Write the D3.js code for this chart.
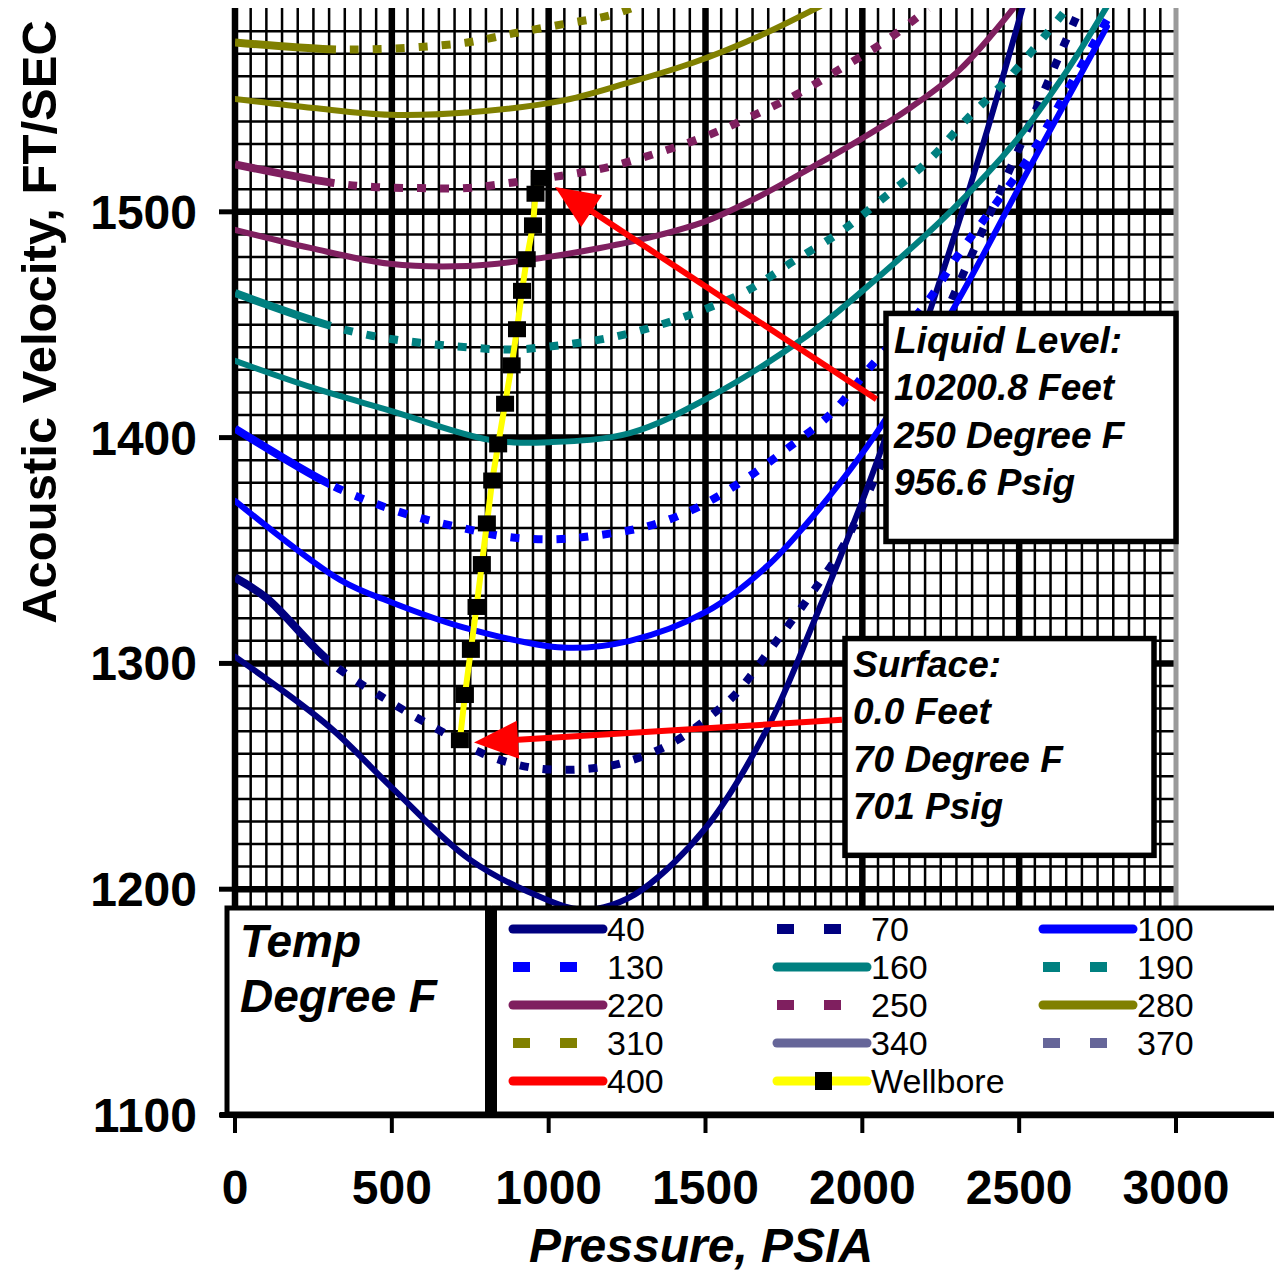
<!DOCTYPE html>
<html><head><meta charset="utf-8">
<script src="https://cdn.jsdelivr.net/npm/d3@7"></script>
<style>html,body{margin:0;padding:0;background:#fff;}svg{display:block;}</style>
</head><body>
<svg id="chart" width="1274" height="1274"></svg>
<script>
// ---------- DATA (pressure PSIA, acoustic velocity ft/sec) ----------
const s40  = [[0,1303],[300,1272],[500,1245],[750,1213],[1000,1195],[1100,1191],[1200,1193],[1300,1200],[1500,1227],[1700,1272],[1850,1320],[2000,1372],[2100,1410],[2220,1458],[2385,1530],[2520,1595]];
const s70  = [[0,1338],[100,1329],[300,1301],[494,1283],[644,1271],[791,1260],[940,1254],[1090,1253],[1237,1256],[1397,1265],[1536,1279],[1600,1287],[1716,1308],[1828,1329],[1935,1351],[2024,1377],[2250,1450],[2512,1532],[2640,1573],[2700,1592]];
const s100 = [[0,1372],[335,1337],[500,1327],[728,1316],[1046,1307],[1259,1310],[1504,1323],[1696,1343],[1823,1362],[1929,1380],[2035,1400],[2290,1457],[2535,1520],[2780,1582]];
const s130 = [[0,1404],[293,1380],[424,1372],[574,1365],[724,1360],[870,1356],[1026,1355],[1170,1357],[1323,1361],[1473,1369],[1620,1381],[1759,1395],[1903,1411],[2024,1431],[2206,1460],[2311,1482],[2417,1502],[2535,1525],[2650,1553],[2800,1590]];
const s160 = [[0,1434],[250,1422],[494,1412],[813,1399],[1004,1398],[1259,1402],[1514,1418],[1823,1445],[1992,1464],[2280,1500],[2493,1532],[2650,1562],[2780,1591]];
const s190 = [[0,1464],[293,1450],[440,1445],[590,1442],[740,1440],[887,1439],[1042,1441],[1186,1444],[1333,1449],[1482,1456],[1632,1465],[1779,1478],[1929,1491],[2066,1506],[2206,1522],[2333,1541],[2464,1559],[2588,1579],[2652,1590]];
const s220 = [[0,1492],[240,1484],[494,1477],[740,1476],[950,1479],[1164,1484],[1333,1489],[1504,1496],[1674,1507],[1843,1520],[1993,1532],[2152,1546],[2311,1563],[2481,1590]];
const s250 = [[0,1521],[303,1513],[440,1511],[590,1510.5],[740,1510.5],[887,1513],[1042,1516],[1196,1520],[1345,1526],[1492,1533],[1642,1542],[1791,1552],[1938,1564],[2078,1576],[2210,1590]];
const s280 = [[0,1550],[250,1546],[494,1543],[740,1544],[1036,1549],[1250,1557],[1460,1566],[1674,1578],[1865,1591]];
const s310 = [[0,1575],[303,1572],[440,1572],[590,1573],[740,1575],[887,1579],[1042,1583],[1196,1587],[1280,1591]];
const s340 = [];
const s370 = [];
const s400 = [];
const wellbore = [[717,1266],[733,1286],[752,1306],[770,1325],[787,1344],[803,1362],[820,1381],[839,1397],[861,1415],[882,1432],[899,1448],[915,1465],[930,1479],[950,1494],[958,1508],[971,1515]];

const seriesNames = ["40","70","100","130","160","190","220","250","280","310","340","370","400"];
const xTicks = [0,500,1000,1500,2000,2500,3000];
const yTicks = [1100,1200,1300,1400,1500];

const liquidText  = ["Liquid Level:","10200.8 Feet","250 Degree F","956.6 Psig"];
const surfaceText = ["Surface:","0.0 Feet","70 Degree F","701 Psig"];
const legendTitle = ["Temp","Degree F"];
const xTitle = "Pressure, PSIA";
const yTitle = "Acoustic Velocity, FT/SEC";

// ---------- STYLE ----------
const seriesDefs = [
  {d:s40,  c:"#000080", dot:false},
  {d:s70,  c:"#000080", dot:true},
  {d:s100, c:"#0000FF", dot:false},
  {d:s130, c:"#0000FF", dot:true},
  {d:s160, c:"#008080", dot:false},
  {d:s190, c:"#008080", dot:true},
  {d:s220, c:"#7F1F5F", dot:false},
  {d:s250, c:"#7F1F5F", dot:true},
  {d:s280, c:"#808000", dot:false},
  {d:s310, c:"#808000", dot:true},
  {d:s340, c:"#666699", dot:false},
  {d:s370, c:"#666699", dot:true},
  {d:s400, c:"#FF0000", dot:false}
].map((s,i)=>Object.assign(s,{name:seriesNames[i]}));

const FONT = "'Liberation Sans', Arial, Helvetica, sans-serif";
const svg = d3.select("#chart");
const x = d3.scaleLinear().domain([0,3000]).range([235,1176]);
const y = d3.scaleLinear().domain([1100,1590]).range([1115,8.6]);
const plotTop = 8, plotBottom = y(1100);

const defs = svg.append("defs");
defs.append("clipPath").attr("id","plotclip").append("rect")
  .attr("x",x(0)).attr("y",plotTop).attr("width",x(3000)-x(0)).attr("height",plotBottom-plotTop);
defs.append("clipPath").attr("id","denseclip").append("rect")
  .attr("x",x(0)).attr("y",plotTop).attr("width",x(300)-x(0)).attr("height",plotBottom-plotTop);
defs.append("clipPath").attr("id","sparseclip").append("rect")
  .attr("x",x(300)).attr("y",plotTop).attr("width",x(3000)-x(300)).attr("height",plotBottom-plotTop);

// ---------- GRID ----------
const grid = svg.append("g");
d3.range(1100,1590,10).forEach(v=>{
  grid.append("line").attr("x1",x(0)).attr("x2",x(3000)).attr("y1",y(v)).attr("y2",y(v))
    .attr("stroke","#000").attr("stroke-width", v%100===0?6.5:2.5);
});
d3.range(0,3001,50).forEach(p=>{
  grid.append("line").attr("x1",x(p)).attr("x2",x(p)).attr("y1",plotTop).attr("y2",plotBottom)
    .attr("stroke", p===3000?"#9a9a9a":"#000").attr("stroke-width", p%500===0?(p===3000?5:6.5):2.5);
});

// ---------- CURVES ----------
const line = d3.line().x(d=>x(d[0])).y(d=>y(d[1])).curve(d3.curveCatmullRom.alpha(0.5));
const curves = svg.append("g").attr("clip-path","url(#plotclip)");
seriesDefs.forEach(s=>{
  if(!s.d.length) return;
  if(!s.dot){
    curves.append("path").attr("d",line(s.d)).attr("fill","none").attr("stroke",s.c)
      .attr("stroke-width",6).attr("stroke-linecap","round");
  } else {
    curves.append("g").attr("clip-path","url(#denseclip)").append("path").attr("d",line(s.d))
      .attr("fill","none").attr("stroke",s.c).attr("stroke-width",8);
    curves.append("g").attr("clip-path","url(#sparseclip)").append("path").attr("d",line(s.d))
      .attr("fill","none").attr("stroke",s.c).attr("stroke-width",8).attr("stroke-dasharray","9,14");
  }
});

// ---------- WELLBORE ----------
const wl = d3.line().x(d=>x(d[0])).y(d=>y(d[1]));
curves.append("path").attr("d",wl(wellbore)).attr("fill","none").attr("stroke","#FFFF00").attr("stroke-width",6);
curves.selectAll("rect.wm").data(wellbore).join("rect").attr("class","wm")
  .attr("x",d=>x(d[0])-9).attr("y",d=>y(d[1])-8).attr("width",18).attr("height",16).attr("fill","#000");

// ---------- ARROWS ----------
function arrow(p0,v0,p1,v1){
  const x0=x(p0),y0=y(v0),x1=x(p1),y1=y(v1);
  const dx=x1-x0,dy=y1-y0,L=Math.hypot(dx,dy),ux=dx/L,uy=dy/L;
  const hl=44,hw=19;
  const bx=x1-ux*hl,by=y1-uy*hl;
  svg.append("line").attr("x1",x0).attr("y1",y0).attr("x2",bx+ux*4).attr("y2",by+uy*4)
    .attr("stroke","#FF0000").attr("stroke-width",6);
  svg.append("polygon").attr("points",[[x1,y1],[bx-uy*hw,by+ux*hw],[bx+uy*hw,by-ux*hw]].map(p=>p.join(",")).join(" "))
    .attr("fill","#FF0000");
}
arrow(2045,1417,1020,1511);
arrow(1935,1275,762,1265);

// ---------- ANNOTATION BOXES ----------
function box(px0,px1,v0,v1,lines,tx,ty0){
  svg.append("rect").attr("x",px0).attr("y",y(v1)).attr("width",px1-px0).attr("height",y(v0)-y(v1))
    .attr("fill","#fff").attr("stroke","#000").attr("stroke-width",5.5);
  lines.forEach((t,i)=>{
    svg.append("text").attr("x",tx).attr("y",ty0+i*47.3).text(t)
      .attr("font-family",FONT).attr("font-size",37).attr("font-weight","bold").attr("font-style","italic").attr("fill","#000");
  });
}
box(886,1176,1354,1455,liquidText,894,353);
box(845,1154,1215,1311,surfaceText,853,677);

// ---------- LEGEND ----------
const lg = svg.append("g");
lg.append("rect").attr("x",227).attr("y",908).attr("width",262).attr("height",206).attr("fill","#fff").attr("stroke","#000").attr("stroke-width",5);
lg.append("rect").attr("x",494).attr("y",908).attr("width",820).attr("height",206).attr("fill","#fff").attr("stroke","#000").attr("stroke-width",5);
lg.append("rect").attr("x",485).attr("y",906).attr("width",12).attr("height",210).attr("fill","#000");
legendTitle.forEach((t,i)=>{
  lg.append("text").attr("x",240).attr("y",957+i*55).text(t).attr("font-family",FONT)
    .attr("font-size",46).attr("font-weight","bold").attr("font-style","italic");
});
const colX=[513,777,1043], rowY0=929, rowStep=38;
const legendItems = seriesDefs.map(s=>({label:s.name,c:s.c,dot:s.dot,wb:false})).concat([{label:"Wellbore",wb:true}]);
legendItems.forEach((it,i)=>{
  const cx=colX[i%3], cy=rowY0+Math.floor(i/3)*rowStep;
  if(it.wb){
    lg.append("line").attr("x1",cx).attr("x2",cx+90).attr("y1",cy).attr("y2",cy).attr("stroke","#FFFF00").attr("stroke-width",9).attr("stroke-linecap","round");
    lg.append("rect").attr("x",cx+38).attr("y",cy-9).attr("width",17).attr("height",18).attr("fill","#000");
  } else if(it.dot){
    lg.append("line").attr("x1",cx).attr("x2",cx+90).attr("y1",cy).attr("y2",cy).attr("stroke",it.c).attr("stroke-width",10).attr("stroke-dasharray","17,30");
  } else {
    lg.append("line").attr("x1",cx).attr("x2",cx+90).attr("y1",cy).attr("y2",cy).attr("stroke",it.c).attr("stroke-width",9).attr("stroke-linecap","round");
  }
  lg.append("text").attr("x",cx+94).attr("y",cy+12).text(it.label).attr("font-family",FONT).attr("font-size",34).attr("fill","#000");
});

// ---------- AXES ----------
const ax = svg.append("g");
ax.append("line").attr("x1",220).attr("x2",1274).attr("y1",plotBottom).attr("y2",plotBottom).attr("stroke","#000").attr("stroke-width",6);
yTicks.forEach(v=>{
  ax.append("line").attr("x1",219).attr("x2",x(0)).attr("y1",y(v)).attr("y2",y(v)).attr("stroke","#000").attr("stroke-width",5);
  ax.append("text").attr("x",197).attr("y",y(v)+17).attr("text-anchor","end").text(v)
    .attr("font-family",FONT).attr("font-size",48).attr("font-weight","bold");
});
xTicks.forEach(p=>{
  ax.append("line").attr("x1",x(p)).attr("x2",x(p)).attr("y1",plotBottom).attr("y2",plotBottom+18).attr("stroke","#000").attr("stroke-width",4);
  ax.append("text").attr("x",x(p)).attr("y",1204).attr("text-anchor","middle").text(p)
    .attr("font-family",FONT).attr("font-size",48).attr("font-weight","bold");
});
ax.append("text").attr("x",701).attr("y",1262).attr("text-anchor","middle").text(xTitle)
  .attr("font-family",FONT).attr("font-size",48).attr("font-weight","bold").attr("font-style","italic");
ax.append("text").attr("transform","translate(56,322) rotate(-90)").attr("text-anchor","middle").text(yTitle)
  .attr("font-family",FONT).attr("font-size",49).attr("font-weight","bold");
</script>
</body></html>
